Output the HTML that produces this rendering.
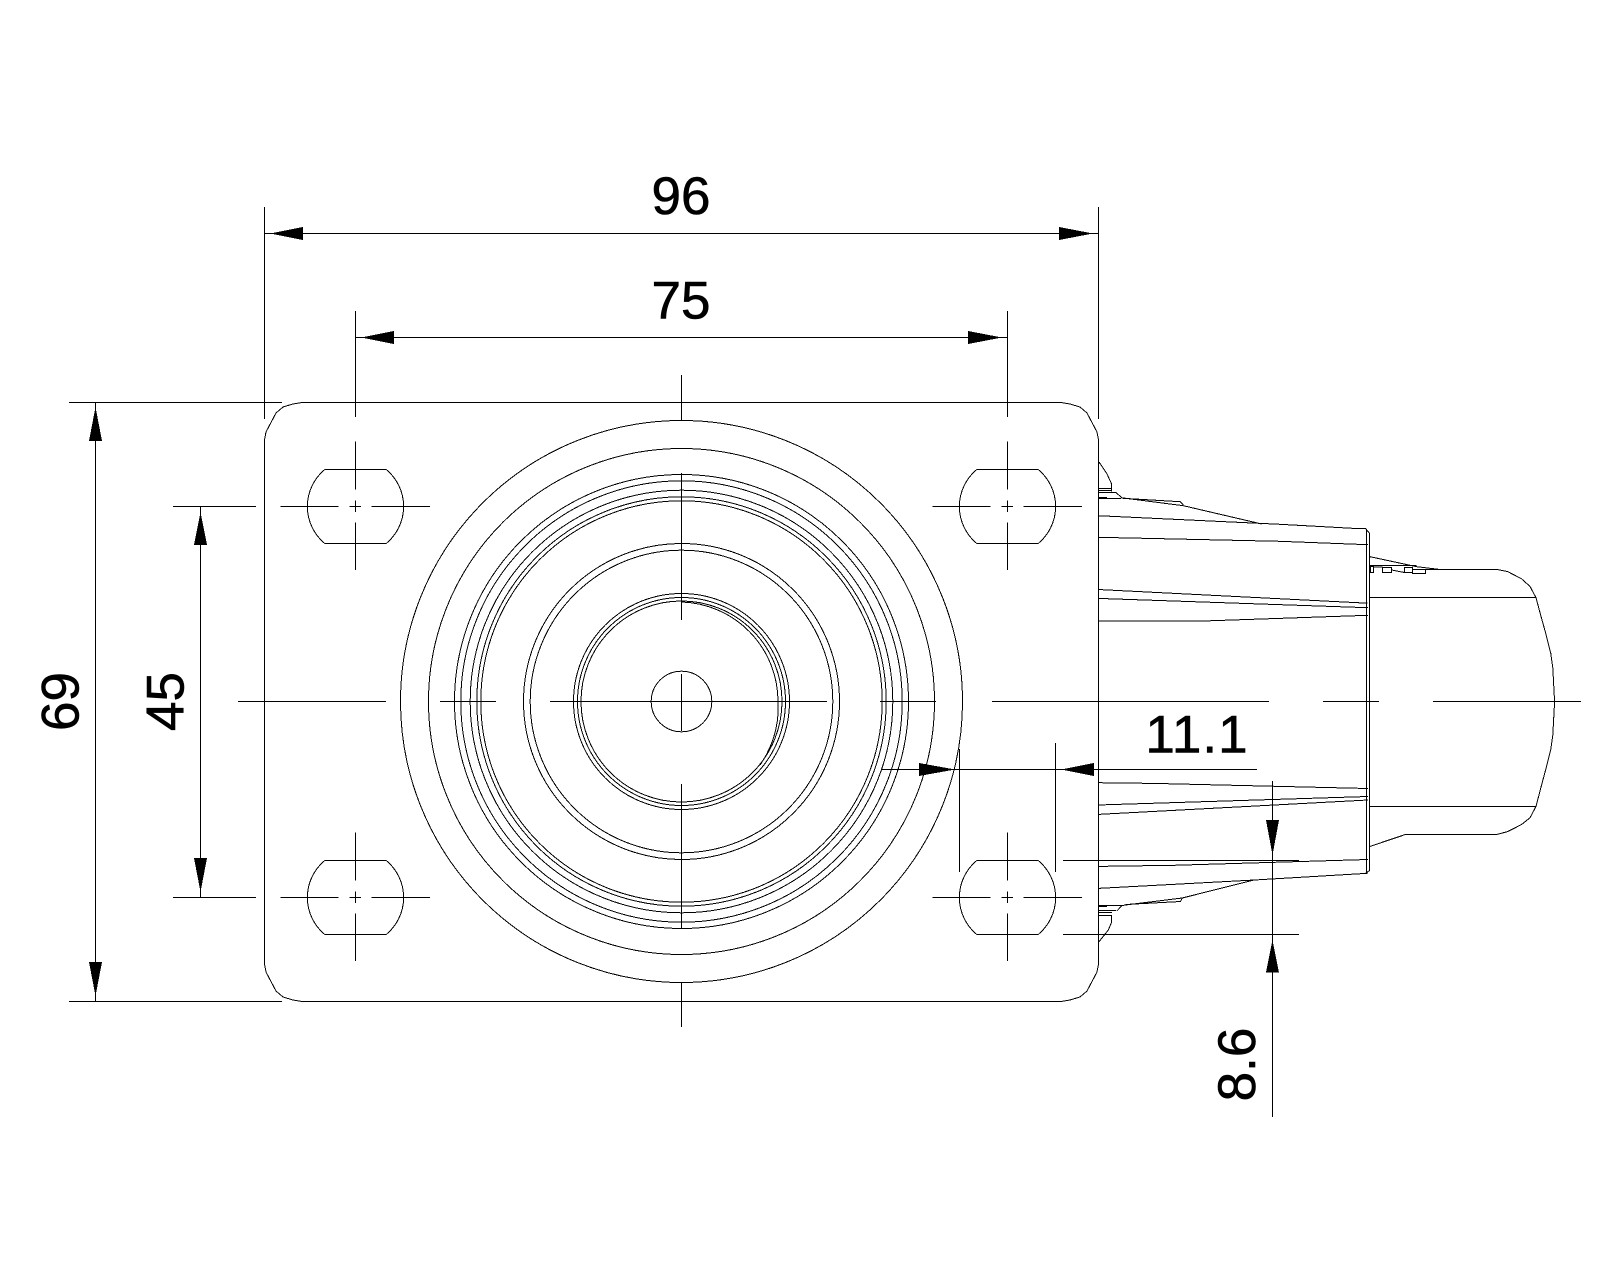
<!DOCTYPE html>
<html><head><meta charset="utf-8"><title>Caster drawing</title>
<style>html,body{margin:0;padding:0;background:#fff}svg{display:block}
text{font-family:"Liberation Sans",Arial,sans-serif;font-size:53px;fill:#000;stroke:#000;stroke-width:.6px;text-anchor:middle}</style></head>
<body>
<svg xmlns="http://www.w3.org/2000/svg" width="1600" height="1280" viewBox="0 0 1600 1280">
<rect width="1600" height="1280" fill="#fff"/>
<g fill="none" stroke="#000" stroke-width="1" shape-rendering="crispEdges">
<!-- plate -->
<path d="M264.5 440L266 432L276 413L283 407L293 404L302 402.5H1061L1070 404L1080 407L1087 413L1097 432L1098.5 440V964L1097 972L1087 991L1080 997L1070 1000L1061 1001.5H302L293 1000L283 997L276 991L266 972L264.5 964Z"/>
<!-- holes -->
<g transform="translate(355.5,506.5)"><path d="M-30.7 -37H30.7A48 48 0 0 1 30.7 37H-30.7A48 48 0 0 1 -30.7 -37Z"/><path d="M-75 0H-17M-6 0H5.500M16 0H74.500M0 -65V-17M0 -6V5.500M0 16V63.500"/></g>
<g transform="translate(1007.5,506.5)"><path d="M-30.7 -37H30.7A48 48 0 0 1 30.7 37H-30.7A48 48 0 0 1 -30.7 -37Z"/><path d="M-75 0H-17M-6 0H5.500M16 0H74.500M0 -65V-17M0 -6V5.500M0 16V63.500"/></g>
<g transform="translate(355.5,897.5)"><path d="M-30.7 -37H30.7A48 48 0 0 1 30.7 37H-30.7A48 48 0 0 1 -30.7 -37Z"/><path d="M-75 0H-17M-6 0H5.500M16 0H74.500M0 -65V-17M0 -6V5.500M0 16V63.500"/></g>
<g transform="translate(1007.5,897.5)"><path d="M-30.7 -37H30.7A48 48 0 0 1 30.7 37H-30.7A48 48 0 0 1 -30.7 -37Z"/><path d="M-75 0H-17M-6 0H5.500M16 0H74.500M0 -65V-17M0 -6V5.500M0 16V63.500"/></g>
<!-- concentric rings -->
<circle cx="681.5" cy="701.5" r="281"/>
<circle cx="681.5" cy="701.5" r="253"/>
<circle cx="681.5" cy="701.5" r="227"/>
<circle cx="681.5" cy="701.5" r="220.700"/>
<circle cx="681.5" cy="701.5" r="211.300"/>
<circle cx="681.5" cy="701.5" r="204.700"/>
<circle cx="681.5" cy="701.5" r="200.700"/>
<circle cx="681.5" cy="701.5" r="158"/>
<circle cx="681.5" cy="701.5" r="151.300"/>
<circle cx="681.5" cy="701.5" r="108"/>
<circle cx="681.5" cy="701.5" r="104"/>
<circle cx="681.5" cy="701.5" r="100.500"/>
<path d="M681.5 602A99.500 99.500 0 0 1 778 701.500A99.500 99.500 0 0 1 760 765"/>
<circle cx="681.5" cy="701.5" r="30.300"/>
<!-- main centre lines -->
<path d="M238 701.5H386M440 701.5H496M550 701.5H827M880 701.5H936M992 701.5H1269M1323 701.5H1379M1433 701.5H1581"/>
<path d="M681.5 375V420M681.5 473V620M681.5 674V731M681.5 784V928M681.5 982V1027"/>
<!-- dimension 96 -->
<path d="M264.5 207V419M1098.5 207V419M264.5 233.500H1098.500"/>
<!-- dimension 75 -->
<path d="M355.5 311V417M1007.5 311V417M355.5 337.500H1007.500"/>
<!-- dimension 69 -->
<path d="M69 402.5H282M69 1001.5H282M95.5 402.500V1001.500"/>
<!-- dimension 45 -->
<path d="M173 506.5H256M173 897.5H256M200.5 506.500V897.500"/>
<!-- dimension 11.1 -->
<path d="M959.5 749V872M1055.5 743V872M881 769.500H1257"/>
<!-- dimension 8.6 -->
<path d="M1063 860.5H1299M1063 934.5H1299M1272.5 781V1117"/>
<!-- side view: swivel -->
<path d="M1099 462L1106.700 473.300L1111.300 483.300V491.700"/>
<path d="M1098 488.500H1111M1098 490.500H1111M1098 492.500H1116L1121.700 497.700M1098 497.500H1107M1098 498.500H1121"/>
<path d="M1121 497.700L1183.300 505.700L1261.700 524M1123 498.300L1180 501.700L1183.300 505"/>
<path d="M1098 515.700L1280 524.300L1356 528.500H1365.500L1369.300 533"/>
<path d="M1098 537.300L1280 541.300L1368 544.700"/>
<path d="M1098 589.500L1367.500 603.200M1098 598.400L1368 607.700M1098 621.200H1197.800L1368 615.300"/>
<path d="M1366.500 529V873M1369.500 533V870.500L1365.500 873.500"/>
<path d="M1098 782.700L1153.700 783.400L1368 788.500M1098 805L1368 796.500M1098 814.400L1368 800M1098 866.400L1173.700 865.300L1368 859.500"/>
<path d="M1098 888.400L1254.600 880L1367.600 873.300"/>
<path d="M1254.600 879.800L1182.300 898L1125.400 905L1122 905.600L1116.800 911"/>
<path d="M1182.300 898L1180.500 901.500L1125.400 904.500"/>
<path d="M1098 905.500H1122M1098 906.500H1107M1098 910.500H1116M1098 912.500H1112M1098 915.500H1111.300V923L1108.300 930L1099 941.700"/>
<!-- wheel -->
<path d="M1425.700 569.500H1497.400L1507.700 571.600L1521.500 578.800L1530 586.400L1536 597.700L1540.800 615.600L1545.600 632.900L1550.800 653.500L1552.800 668L1554.600 701.700L1552.800 735L1550.800 749.500L1545.600 770L1540.800 788L1536 806.400L1530 817.800L1521.500 824.500L1507.700 831.600L1497.400 834.300H1406L1370 846.400"/>
<path d="M1370 597.500H1536M1370 806.500H1536"/>
<path d="M1370 556.700L1416.700 566.700L1440 569.500M1370 565.700H1416.700"/>
<path d="M1370.500 566.700H1373.500V572.500H1370.500ZM1373.500 567H1382.500M1382.500 567.500H1391.500V572.500H1382.500ZM1391.500 570L1404.500 572.500M1404.500 567.500H1412.500V572.500H1404.500ZM1412.500 569.500H1425.500V573.500H1412.500Z"/>
</g>
<!-- arrowheads -->
<g fill="#000" stroke="none" shape-rendering="crispEdges">
<polygon points="270,233.500 303,227 303,240"/>
<polygon points="1093,233.500 1059,227 1059,240"/>
<polygon points="361,337.500 394,331 394,344"/>
<polygon points="1002,337.500 968,331 968,344"/>
<polygon points="95.500,407 89,441 102,441"/>
<polygon points="95.500,996 89,962 102,962"/>
<polygon points="200.500,512 194,545 207,545"/>
<polygon points="200.500,892 194,858 207,858"/>
<polygon points="955,769.500 919,763 919,776"/>
<polygon points="1061,769.500 1094,763 1094,776"/>
<polygon points="1272.500,855 1266,820 1279,820"/>
<polygon points="1272.500,940 1266,972.500 1279,972.500"/>
</g>
<!-- labels -->
<text x="681" y="214">96</text>
<text x="681" y="318.500">75</text>
<text x="1197" y="752.500" style="letter-spacing:1px">11.1</text>
<text transform="translate(78.500,701.500) rotate(-90)">69</text>
<text transform="translate(183.500,701.500) rotate(-90)">45</text>
<text transform="translate(1255,1064.500) rotate(-90)">8.6</text>
</svg>
</body></html>
